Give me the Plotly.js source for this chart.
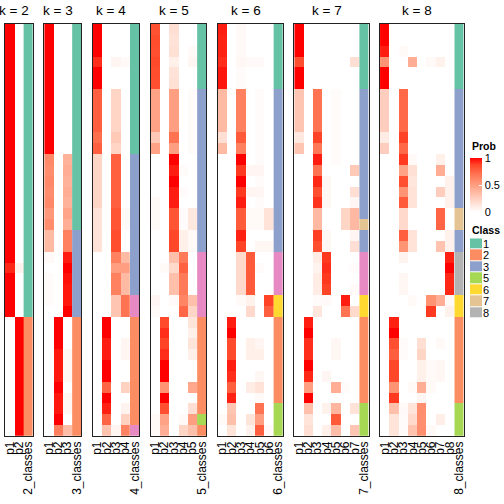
<!DOCTYPE html>
<html><head><meta charset="utf-8">
<script src="https://cdn.plot.ly/plotly-3.0.1.min.js"></script>
<style>html,body{margin:0;padding:0;background:#fff}#chart{width:504px;height:504px}</style>
</head><body><div id="chart"></div>
<script>
// ---- data (38 samples, rows top to bottom) ----
const k2_p1 = [1,1,1,1,1,1, 1,1,1,1,1,1, 1,1,1,1,1, 1,1,1,1, 1,0.93,1,1,1,1, 0,0,0,0,0,0,0,0, 0,0,0];
const k2_p2 = [0,0,0,0,0,0, 0,0,0,0,0,0, 0,0,0,0,0, 0,0,0,0, 0,0.07,0,0,0,0, 1,1,1,1,1,1,1,1, 1,1,1];
const class_k2 = [1,1,1,1,1,1, 1,1,1,1,1,1, 1,1,1,1,1, 1,1,1,1, 1,1,1,1,1,1, 2,2,2,2,2,2,2,2, 2,2,2];

const k3_p1 = [1,1,1,1,1,1, 1,1,1,1,1,1, 0.6,0.58,0.6,0.58,0.6, 0.53,0.58,0.36,0.36, 0.03,0,0.02,0.02,0.02,0, 0,0,0,0,0,0,0,0, 0,0,0];
const k3_p2 = [0,0,0,0,0,0, 0,0,0,0,0,0, 0,0,0,0,0, 0,0,0,0, 0,0,0,0,0,0, 1,1,1,0.96,0.96,0.96,1,0.96, 0.96,1,0.65];
const k3_p3 = [0,0,0,0,0,0, 0,0,0,0,0,0, 0.4,0.42,0.4,0.42,0.4, 0.47,0.42,0.64,0.64, 0.95,1,0.97,0.96,0.96,1, 0,0,0,0.04,0.04,0.04,0,0.04, 0.04,0,0.35];
const class_k3 = [1,1,1,1,1,1, 1,1,1,1,1,1, 1,1,1,1,1, 1,1,3,3, 3,3,3,3,3,3, 2,2,2,2,2,2,2,2, 2,2,2];

const k4_p1 = [1,1,1,0.92,1,1, 0.78,0.78,0.78,0.78,0.72,0.78, 0.22,0.22,0.22,0.22,0.22, 0.15,0.15,0.15,0.15, 0,0,0,0,0,0, 0,0,0,0,0,0,0,0, 0,0,0];
const k4_p2 = [0,0,0,0,0,0, 0,0,0,0,0,0, 0,0,0,0,0, 0,0,0,0, 0,0,0,0,0,0, 1,1,0.95,0.95,1,1,0.76,1, 0.94,0.76,0.32];
const k4_p3 = [0,0,0,0.05,0,0, 0.22,0.22,0.22,0.22,0.28,0.22, 0.78,0.78,0.78,0.78,0.78, 0.82,0.82,0.85,0.85, 0.64,0.5,0.64,0.64,0.3,0.3, 0,0,0,0,0,0,0,0, 0,0,0.05];
const k4_p4 = [0,0,0,0.03,0,0, 0,0,0,0,0,0, 0,0,0,0,0, 0.03,0.03,0,0, 0.36,0.5,0.36,0.36,0.7,0.7, 0,0,0.05,0.05,0,0,0.24,0, 0.06,0.24,0.63];
const class_k4 = [1,1,1,1,1,1, 1,1,1,1,1,1, 3,3,3,3,3, 3,3,3,3, 3,3,3,3,4,4, 2,2,2,2,2,2,2,2, 2,2,4];

const k5_p1 = [0.83,0.85,0.84,0.86,0.85,0.84, 0.48,0.48,0.48,0.48,0.28,0.48, 0,0,0,0,0.03, 0.03,0.03,0,0, 0,0,0,0,0.05,0.03, 0,0,0,0,0,0,0,0, 0,0.03,0.03];
const k5_p2 = [0,0,0,0,0,0, 0,0,0,0,0,0, 0,0,0,0,0, 0,0,0,0, 0,0.03,0,0,0,0, 0.86,0.92,0.88,0.92,1,1,0.55,1, 0.84,0.48,0.42];
const k5_p3 = [0.17,0.15,0.16,0.08,0.15,0.16, 0.5,0.5,0.5,0.5,0.7,0.5, 1,0.95,1,0.95,0.95, 0.82,0.82,0.87,0.87, 0.33,0.2,0.33,0.33,0.03,0, 0,0,0,0,0,0,0,0, 0,0,0];
const k5_p4 = [0,0,0,0,0,0, 0,0,0,0,0,0, 0,0.02,0,0.02,0, 0.02,0.02,0.08,0.08, 0.67,0.77,0.67,0.67,0.62,0.75, 0,0,0,0,0,0,0,0, 0,0.03,0.22];
const k5_p5 = [0,0,0.03,0.05,0,0, 0.02,0.02,0.02,0.02,0.02,0.02, 0,0,0,0,0, 0.12,0.12,0.03,0.03, 0,0,0,0,0.33,0.22, 0.14,0.08,0.14,0.08,0,0,0.45,0, 0.17,0.5,0.33];
const class_k5 = [1,1,1,1,1,1, 3,3,3,3,3,3, 3,3,3,3,3, 3,3,3,3, 4,4,4,4,4,4, 2,2,2,2,2,2,2,2, 2,5,2];

const k6_p1 = [0.95,0.94,0.94,0.92,0.96,0.96, 0.36,0.36,0.36,0.36,0.17,0.36, 0,0,0,0,0, 0,0,0,0, 0,0,0,0,0,0, 0,0,0,0,0,0,0,0, 0,0.03,0];
const k6_p2 = [0,0,0,0,0,0, 0,0,0,0,0,0, 0,0,0,0,0, 0,0,0,0, 0,0,0,0,0,0, 0.95,1,0.86,0.86,0.95,0.92,0.78,0.94, 0.3,0.33,0.14];
const k6_p3 = [0.03,0.03,0.03,0.04,0.02,0.02, 0.64,0.64,0.64,0.64,0.8,0.64, 1,0.9,1,0.9,0.95, 0.8,0.8,0.94,0.88, 0.2,0.2,0.2,0.2,0.03,0, 0,0,0,0,0,0,0,0, 0,0,0];
const k6_p4 = [0,0,0,0.03,0,0, 0,0,0,0,0,0, 0,0.05,0,0.05,0, 0.03,0.03,0,0, 0.8,0.8,0.8,0.8,0.07,0.2, 0,0,0.08,0.08,0,0,0.1,0, 0,0.14,0.07];
const k6_p5 = [0,0,0,0.03,0,0, 0.02,0.02,0.02,0.02,0.02,0.02, 0.02,0.05,0.02,0.05,0.02, 0.03,0.03,0,0.04, 0,0.02,0,0,0,0, 0,0,0.05,0.08,0,0.04,0.15,0.03, 0.7,0.5,0.78];
const k6_p6 = [0,0,0,0,0,0, 0,0,0,0,0,0, 0,0,0,0,0, 0.15,0.15,0,0.04, 0,0,0,0,0.88,0.78, 0,0,0,0,0,0,0,0, 0,0,0.03];
const class_k6 = [1,1,1,1,1,1, 3,3,3,3,3,3, 3,3,3,3,3, 3,3,3,3, 4,4,4,4,6,6, 2,2,2,2,2,2,2,2, 5,5,5];

const k7_p1 = [1,1,1,0.84,1,1, 0.3,0.3,0.3,0.3,0.12,0.3, 0,0,0,0,0, 0,0,0,0, 0,0,0,0,0,0, 0,0,0,0,0,0,0,0, 0,0,0];
const k7_p2 = [0,0,0,0,0,0, 0,0,0,0,0,0, 0,0,0,0,0, 0,0,0,0, 0,0,0,0,0,0, 0.95,1,0.92,0.92,1,0.93,0.5,1, 0.33,0.14,0.17];
const k7_p3 = [0,0,0,0,0,0, 0.7,0.7,0.7,0.7,0.88,0.68, 0.95,0.7,0.93,0.84,0.91, 0.37,0.37,0.89,0.84, 0.1,0.06,0.1,0.1,0.02,0.13, 0,0,0,0,0,0,0,0, 0,0,0];
const k7_p4 = [0,0,0,0,0,0, 0,0,0,0,0,0, 0,0,0.04,0.04,0.04, 0,0,0.04,0.04, 0.9,0.92,0.9,0.88,0.03,0, 0,0,0,0,0,0.05,0,0, 0.07,0,0.08];
const k7_p5 = [0,0,0,0,0,0, 0.02,0.02,0.02,0.02,0.02,0.02, 0.02,0,0,0,0, 0,0,0,0, 0,0,0,0,0,0, 0,0,0.04,0.04,0,0,0.42,0, 0.38,0.8,0.35];
const k7_p6 = [0,0,0,0,0,0, 0,0,0,0,0,0, 0,0,0,0,0, 0.22,0.22,0,0, 0,0,0,0,0.95,0.7, 0,0,0,0,0,0,0.02,0, 0,0,0];
const k7_p7 = [0,0,0,0.17,0,0, 0,0,0,0,0,0, 0,0.28,0,0.17,0.05, 0.37,0.37,0.05,0.17, 0,0.02,0,0.03,0,0.2, 0,0,0,0,0,0,0,0, 0.15,0,0.3];
const class_k7 = [1,1,1,1,1,1, 3,3,3,3,3,3, 3,3,3,3,3, 3,7,3,3, 4,4,4,4,6,6, 2,2,2,2,2,2,2,2, 5,5,5];

const k8_p1 = [1,1,0.95,0.55,1,1, 0.26,0.26,0.26,0.26,0.1,0.26, 0,0,0,0,0, 0,0,0,0, 0,0,0,0,0,0, 0,0,0,0,0,0,0,0, 0,0,0];
const k8_p2 = [0,0,0,0,0,0, 0,0,0,0,0,0, 0,0,0,0,0, 0,0,0,0, 0,0,0,0,0,0, 0.94,1,0.84,0.78,0.87,0.87,0.55,0.9, 0.33,0.14,0.14];
const k8_p3 = [0,0,0.03,0,0,0, 0.74,0.74,0.74,0.74,0.88,0.74, 0.9,0.48,0.84,0.55,0.8, 0.2,0.2,0.78,0.55, 0.06,0,0.04,0.04,0,0, 0,0,0.02,0.02,0,0,0,0, 0.03,0.02,0.02];
const k8_p4 = [0,0,0,0.42,0,0, 0,0,0,0,0,0, 0.03,0.16,0.13,0.15,0.15, 0,0,0.15,0.15, 0,0,0,0,0.03,0, 0,0,0,0,0,0,0.03,0, 0.14,0.2,0.31];
const k8_p5 = [0,0,0,0,0,0, 0,0,0,0,0,0, 0,0,0,0,0, 0,0,0,0, 0,0,0,0,0,0, 0,0,0.17,0.22,0.08,0.08,0.42,0.05, 0.58,0.58,0.58];
const k8_p6 = [0,0,0,0.03,0,0, 0,0,0,0,0,0, 0,0,0,0,0, 0,0,0,0, 0,0,0,0,0.55,0.9, 0,0,0,0,0.03,0.03,0.03,0, 0,0,0.03];
const k8_p7 = [0,0,0,0.07,0,0, 0,0,0,0,0,0, 0.08,0.42,0,0.26,0, 0.76,0.76,0,0.31, 0,0,0,0,0.42,0, 0,0,0.03,0,0.04,0.04,0,0, 0,0.09,0];
const k8_p8 = [0,0,0,0,0,0, 0,0,0,0,0,0, 0,0,0.07,0.07,0.07, 0,0,0.07,0.07, 0.94,1,0.93,0.93,0.03,0.07, 0,0,0,0,0,0,0,0, 0,0,0];
const class_k8 = [1,1,1,1,1,1, 3,3,3,3,3,3, 3,3,3,3,3, 7,7,3,3, 8,8,8,8,6,6, 2,2,2,2,2,2,2,2, 5,5,5];

const classColors = ['#66c2a5','#fc8d62','#8da0cb','#e78ac3','#a6d854','#ffd92f','#e5c494','#b3b3b3'];
const legendClassLabels = ['1','2','3','5','6','7','8'];
const legendClassValues = [1,2,3,5,6,7,8];
const probTickVals = [0,0.5,1];
const probTickText = ['0','0.5','1'];

const panels = [
  {k:2, probs:[k2_p1,k2_p2], cls:class_k2},
  {k:3, probs:[k3_p1,k3_p2,k3_p3], cls:class_k3},
  {k:4, probs:[k4_p1,k4_p2,k4_p3,k4_p4], cls:class_k4},
  {k:5, probs:[k5_p1,k5_p2,k5_p3,k5_p4,k5_p5], cls:class_k5},
  {k:6, probs:[k6_p1,k6_p2,k6_p3,k6_p4,k6_p5,k6_p6], cls:class_k6},
  {k:7, probs:[k7_p1,k7_p2,k7_p3,k7_p4,k7_p5,k7_p6,k7_p7], cls:class_k7},
  {k:8, probs:[k8_p1,k8_p2,k8_p3,k8_p4,k8_p5,k8_p6,k8_p7,k8_p8], cls:class_k8}
];

// ---- layout geometry ----
const W = 504, H = 504;
const colW = 9.31, gapW = 11.3, left0 = 5;
const topPx = 24, botPx = 435.7;
const FONT = 'Liberation Sans, Arial, Helvetica, sans-serif';

const probScale = [
  [0,'#ffffff'],[0.125,'rgb(255,231,222)'],[0.25,'rgb(255,207,191)'],[0.375,'rgb(255,183,160)'],
  [0.5,'rgb(255,158,129)'],[0.625,'rgb(255,132,99)'],[0.75,'rgb(255,103,70)'],[0.875,'rgb(255,70,40)'],[1,'rgb(255,0,0)']
];
const classScale = [];
classColors.forEach((c,i)=>{ classScale.push([i/8,c]); classScale.push([(i+1)/8,c]); });

const traces = [];
const layout = {
  width: W, height: H, margin:{l:0,r:0,t:0,b:0},
  paper_bgcolor:'#ffffff', plot_bgcolor:'#ffffff',
  font:{family:FONT, color:'#000000'},
  showlegend:false, hovermode:false,
  annotations:[]
};

let xStart = left0;
panels.forEach((p,i)=>{
  const n = i+1;
  const xa = n===1 ? 'x' : 'x'+n;
  const ya = n===1 ? 'y' : 'y'+n;
  const pLabels = p.probs.map((_,j)=>'p'+(j+1));
  const clsLabel = p.k+'_classes';
  const nRows = p.cls.length;
  const rows = p.cls.map((_,r)=>r);
  const colPos = p.probs.map((_,j)=>j);
  const z = rows.map(r=>p.probs.map(col=>col[r]));
  const trace = {
    type:'heatmap', x:colPos, y:rows, z:z, xaxis:xa, yaxis:ya,
    colorscale:probScale, zmin:0, zmax:1, showscale:false, hoverinfo:'skip'
  };
  if (n===1) {
    trace.showscale = true;
    trace.colorbar = {
      x:470/W, xanchor:'left', xpad:0, ypad:0,
      y:(H-185)/H, yanchor:'middle', len:54, lenmode:'pixels', thickness:12,
      outlinewidth:0, tickmode:'array', tickvals:probTickVals, ticktext:probTickText,
      ticks:'inside', ticklen:3, tickcolor:'#ffffff', tickfont:{size:11, family:FONT},
      title:{text:''}
    };
  }
  traces.push(trace);
  traces.push({
    type:'heatmap', x:[p.k], y:rows, z:p.cls.map(c=>[c]), xaxis:xa, yaxis:ya,
    colorscale:classScale, zmin:0.5, zmax:8.5, showscale:false, hoverinfo:'skip'
  });
  const ncol = p.k+1;
  const xEnd = xStart + ncol*colW;
  layout['xaxis'+(n===1?'':n)] = {
    domain:[xStart/W, xEnd/W], anchor:ya, type:'linear',
    range:[-0.5, ncol-0.5], tickmode:'array',
    tickvals:[...colPos, p.k], ticktext:[...pLabels, clsLabel],
    tickangle:-90, tickfont:{size:12, family:FONT},
    ticks:'', showgrid:false, zeroline:false,
    showline:true, mirror:true, linecolor:'#222222', linewidth:1, fixedrange:true
  };
  layout['yaxis'+(n===1?'':n)] = {
    domain:[(H-botPx)/H, (H-topPx)/H], anchor:xa,
    range:[nRows-0.5, -0.5], showticklabels:false, ticks:'',
    showgrid:false, zeroline:false,
    showline:true, mirror:true, linecolor:'#222222', linewidth:1, fixedrange:true
  };
  layout.annotations.push({
    xref:'paper', yref:'paper', x:(xStart + p.k*colW/2)/W, y:(H-10.5)/H,
    xanchor:'center', yanchor:'middle', showarrow:false,
    text:'k = '+p.k, font:{size:13.5, family:FONT, color:'#000'}
  });
  xStart = xEnd + gapW;
});

// ---- class legend ----
const legendPos = legendClassLabels.map((_,i)=>i);
traces.push({
  type:'heatmap', x:[0], y:legendPos, z:legendClassValues.map(v=>[v]),
  xaxis:'x8', yaxis:'y8', colorscale:classScale, zmin:0.5, zmax:8.5,
  showscale:false, ygap:1, hoverinfo:'skip'
});
layout.xaxis8 = {domain:[470/W, 482/W], anchor:'y8', visible:false, range:[-0.5,0.5], fixedrange:true};
layout.yaxis8 = {
  domain:[(H-318.4)/H, (H-238.3)/H], anchor:'x8', type:'linear',
  range:[legendPos.length-0.5, -0.5], tickmode:'array', tickvals:legendPos, ticktext:legendClassLabels,
  side:'right', ticks:'', showgrid:false, zeroline:false, showline:false,
  tickfont:{size:11, family:FONT}, fixedrange:true
};
layout.annotations.push({
  xref:'paper', yref:'paper', x:470/W, y:(H-146)/H, xanchor:'left', yanchor:'middle',
  showarrow:false, text:'<b>Prob</b>', font:{size:10.5, family:FONT, color:'#000'}
});
layout.annotations.push({
  xref:'paper', yref:'paper', x:470/W, y:(H-230)/H, xanchor:'left', yanchor:'middle',
  showarrow:false, text:'<b>Class</b>', font:{size:10.5, family:FONT, color:'#000'}
});

Plotly.newPlot('chart', traces, layout, {staticPlot:true, displayModeBar:false});
</script>
</body></html>
